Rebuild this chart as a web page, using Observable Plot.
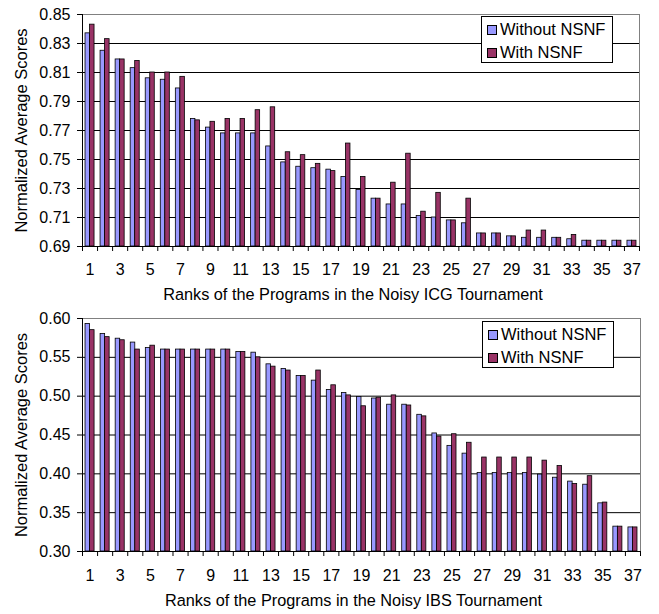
<!DOCTYPE html>
<html><head><meta charset="utf-8">
<script src="https://cdn.jsdelivr.net/npm/d3@7"></script>
<script src="https://cdn.jsdelivr.net/npm/@observablehq/plot@0.6"></script>
<style>
body{margin:0;background:#fff;font-family:"Liberation Sans",Arial,sans-serif;}
#wrap{position:relative;width:659px;height:614px;overflow:hidden;}
.panel{position:absolute;left:0;}
.legend{position:absolute;border:1px solid #000;background:#fff;font-size:16.5px;box-sizing:border-box;}
.row{position:absolute;left:5px;white-space:nowrap;line-height:20px;}
.sw{display:inline-block;width:8px;height:8px;border:1px solid #000;margin-right:3px;vertical-align:0px;}
</style></head><body><div id="wrap"></div>
<script>
const ranks = d3.range(1, 38);
const seriesNames = ["Without NSNF", "With NSNF"];
const seriesColors = ["#9999FF", "#993366"];
const yTitle = "Normalized Average Scores";

const icgTitle = "Ranks of the Programs in the Noisy ICG Tournament";
const icgWithout = [0.837,0.825,0.819,0.813,0.806,0.805,0.799,0.778,0.772,0.768,0.768,0.768,0.759,0.748,0.745,0.744,0.743,0.738,0.729,0.723,0.719,0.719,0.711,0.710,0.708,0.706,0.699,0.699,0.697,0.696,0.696,0.696,0.695,0.694,0.694,0.694,0.694];
const icgWith    = [0.843,0.833,0.819,0.818,0.810,0.810,0.807,0.777,0.776,0.778,0.778,0.784,0.786,0.755,0.753,0.747,0.742,0.761,0.738,0.723,0.734,0.754,0.714,0.727,0.708,0.723,0.699,0.699,0.697,0.701,0.701,0.696,0.698,0.694,0.694,0.694,0.694];
const icgTicks = [0.69,0.71,0.73,0.75,0.77,0.79,0.81,0.83,0.85];

const ibsTitle = "Ranks of the Programs in the Noisy IBS Tournament";
const ibsWithout = [0.593,0.580,0.574,0.569,0.562,0.560,0.560,0.560,0.560,0.560,0.557,0.556,0.541,0.535,0.526,0.520,0.508,0.504,0.499,0.497,0.489,0.489,0.476,0.452,0.436,0.426,0.401,0.401,0.401,0.401,0.399,0.395,0.390,0.386,0.362,0.332,0.331];
const ibsWith    = [0.585,0.576,0.572,0.560,0.565,0.560,0.560,0.560,0.560,0.560,0.557,0.550,0.538,0.533,0.526,0.533,0.514,0.501,0.487,0.498,0.501,0.488,0.474,0.448,0.451,0.440,0.421,0.421,0.421,0.421,0.417,0.410,0.387,0.397,0.363,0.332,0.331];
const ibsTicks = [0.30,0.35,0.40,0.45,0.50,0.55,0.60];

const oddRanks = ranks.filter(r => r % 2 === 1);
const boundaries = [0, ...ranks].map(r => r + 0.5);

function chart(cfg) {
  const rows = ranks.map((r, i) => ({rank: r, without: cfg.without[i], with: cfg.withN[i]}));
  const yMin = cfg.ticks[0], yMax = cfg.ticks[cfg.ticks.length - 1];
  return Plot.plot({
    width: 659, height: cfg.height,
    marginLeft: 82, marginRight: cfg.mr, marginTop: cfg.mt, marginBottom: cfg.mb,
    x: {domain: [0.5, 37.5]},
    y: {domain: [yMin, yMax]},
    style: {fontFamily: '"Liberation Sans", Arial, sans-serif', fontSize: "16px", color: "#000", background: "#fff"},
    marks: [
      Plot.ruleY(cfg.ticks.slice(1, -1), {stroke: "#000", strokeWidth: 1}),
      Plot.ruleY([yMax], {stroke: "#808080", strokeWidth: 1}),
      Plot.ruleX([37.5], {stroke: "#808080", strokeWidth: 1}),
      Plot.rect(rows, {x1: d => d.rank - 0.3, x2: "rank", y1: yMin, y2: "without", fill: seriesColors[0], stroke: "#000", strokeWidth: 0.8}),
      Plot.rect(rows, {x1: "rank", x2: d => d.rank + 0.3, y1: yMin, y2: "with", fill: seriesColors[1], stroke: "#000", strokeWidth: 0.8}),
      Plot.ruleX([0.5], {stroke: "#000"}),
      Plot.ruleY([yMin], {stroke: "#000"}),
      Plot.axisY({ticks: cfg.ticks, tickFormat: ".2f", tickSize: 5, tickPadding: 7, label: null, fontSize: 16}),
      Plot.axisX({ticks: boundaries, tickFormat: () => "", tickSize: 5, label: null}),
      Plot.axisX({ticks: oddRanks, tickSize: 0, tickPadding: cfg.tickPad, label: null, fontSize: 16}),
      Plot.text([cfg.title], {text: d => d, frameAnchor: "bottom", textAnchor: "middle", dy: cfg.titleDy, dx: -8, fontSize: 16.3}),
      Plot.text([yTitle], {text: d => d, frameAnchor: "left", textAnchor: "middle", rotate: -90, dx: -61, fontSize: 16.5})
    ]
  });
}

const wrap = document.getElementById("wrap");
function addPanel(svg, top) {
  const d = document.createElement("div");
  d.className = "panel"; d.style.top = top + "px";
  d.appendChild(svg); wrap.appendChild(d);
}
function addLegend(left, top, h) {
  const L = document.createElement("div");
  L.className = "legend";
  Object.assign(L.style, {left: left + "px", top: top + "px", width: "132px", height: h + "px"});
  seriesNames.forEach((n, i) => {
    const r = document.createElement("div");
    r.className = "row"; r.style.top = (2 + i * 23) + "px";
    const s = document.createElement("span");
    s.className = "sw"; s.style.background = seriesColors[i];
    r.appendChild(s); r.appendChild(document.createTextNode(n));
    L.appendChild(r);
  });
  wrap.appendChild(L);
}

addPanel(chart({without: icgWithout, withN: icgWith, ticks: icgTicks, title: icgTitle, height: 307, mt: 14, mb: 61, mr: 20, tickPad: 17, titleDy: 53}), 0);
addPanel(chart({without: ibsWithout, withN: ibsWith, ticks: ibsTicks, title: ibsTitle, height: 307, mt: 11, mb: 63, mr: 19, tickPad: 18.5, titleDy: 54}), 307);
addLegend(481, 16, 47);
addLegend(482, 321, 47);
</script>
</body></html>
